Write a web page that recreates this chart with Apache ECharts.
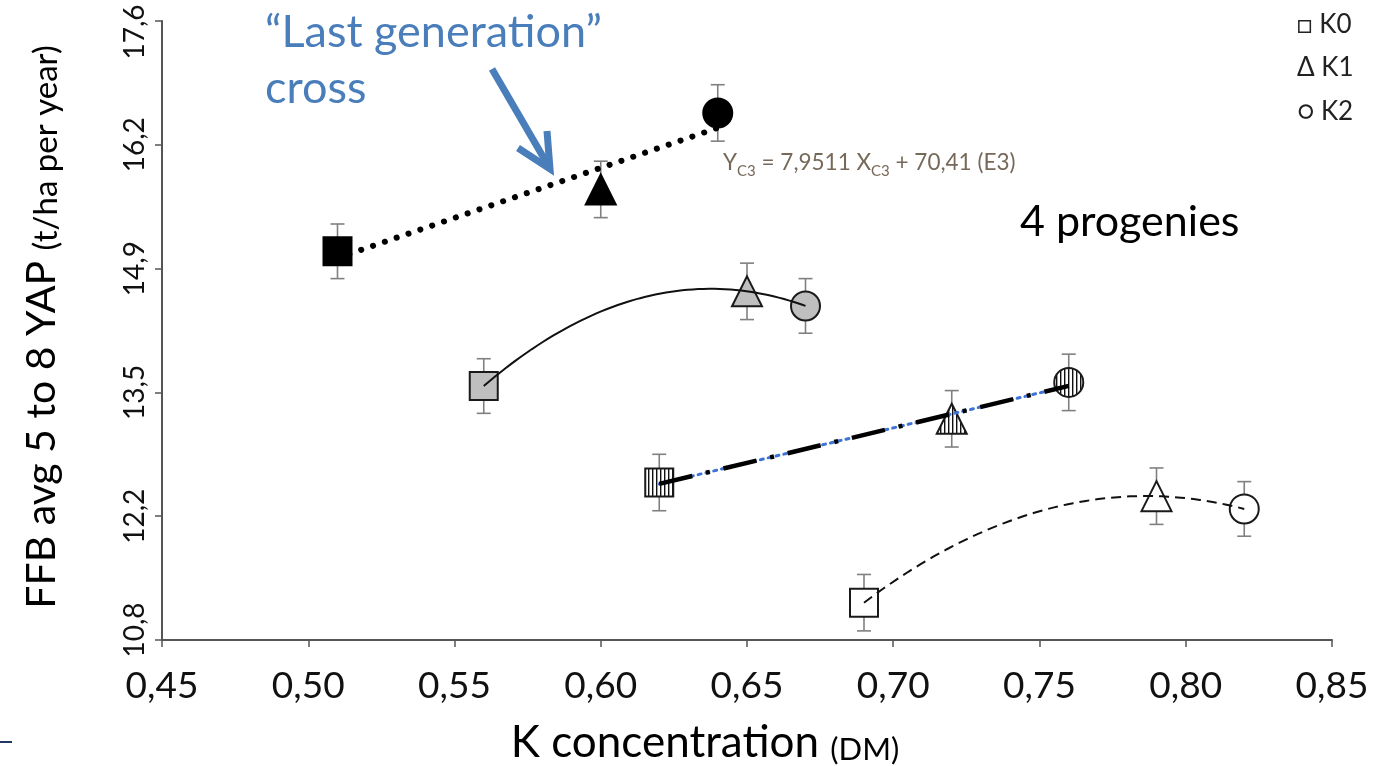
<!DOCTYPE html>
<html>
<head>
<meta charset="utf-8">
<title>FFB vs K concentration</title>
<script src="https://cdn.jsdelivr.net/npm/echarts@6/dist/echarts.min.js"></script>
<style>
  html, body { margin: 0; padding: 0; background: #fff; }
  #main { width: 1382px; height: 766px; }
</style>
</head>
<body>
<div id="main"></div>
<script>
// x = K concentration (DM), y = FFB avg 5 to 8 YAP (t/ha per year)
// every progeny has 3 points, in order K0 (square), K1 (triangle), K2 (circle)
var kNames = ['K0', 'K1', 'K2'];
var kShapes = ['rect', 'triangle', 'circle'];
var kSizes = [28, 30, 29];

var c3K = [0.51, 0.60, 0.64];
var c3Ffb = [15.07, 15.75, 16.59];
var c3Err = [0.30, 0.31, 0.31];

var greyK = [0.56, 0.65, 0.67];
var greyFfb = [13.59, 14.63, 14.47];
var greyErr = [0.30, 0.31, 0.30];

var stripeK = [0.62, 0.72, 0.76];
var stripeFfb = [12.53, 13.23, 13.63];
var stripeErr = [0.31, 0.31, 0.31];

var whiteK = [0.69, 0.79, 0.82];
var whiteFfb = [11.21, 12.38, 12.24];
var whiteErr = [0.31, 0.31, 0.30];

var xTickLabels = ['0,45', '0,50', '0,55', '0,60', '0,65', '0,70', '0,75', '0,80', '0,85'];
var yTickLabels = ['10,8', '12,2', '13,5', '14,9', '16,2', '17,6'];

var FONT = 'Lato, "Open Sans", sans-serif';
var BLUE = '#4a7ebb';

// excel-like trendlines
function linearTrend(xs, ys) {
    var n = xs.length, mx = 0, my = 0;
    for (var i = 0; i < n; i++) { mx += xs[i] / n; my += ys[i] / n; }
    var sxy = 0, sxx = 0;
    for (var i = 0; i < n; i++) {
        sxy += (xs[i] - mx) * (ys[i] - my);
        sxx += (xs[i] - mx) * (xs[i] - mx);
    }
    var b = sxy / sxx, a = my - b * mx;
    var x0 = Math.min.apply(null, xs), x1 = Math.max.apply(null, xs);
    return [[x0, a + b * x0], [x1, a + b * x1]];
}

// 2nd order polynomial through the 3 points
function polyTrend(xs, ys) {
    function f(x) {
        var s = 0;
        for (var i = 0; i < 3; i++) {
            var t = ys[i];
            for (var j = 0; j < 3; j++) {
                if (j !== i) t *= (x - xs[j]) / (xs[i] - xs[j]);
            }
            s += t;
        }
        return s;
    }
    var out = [], steps = 60;
    for (var k = 0; k <= steps; k++) {
        var x = xs[0] + (xs[2] - xs[0]) * k / steps;
        out.push([x, f(x)]);
    }
    return out;
}

// vertical stripes for the hatched progeny
var stripeCanvas = document.createElement('canvas');
stripeCanvas.width = 4;
stripeCanvas.height = 4;
var sctx = stripeCanvas.getContext('2d');
sctx.fillStyle = '#fff';
sctx.fillRect(0, 0, 4, 4);
sctx.fillStyle = '#111';
sctx.fillRect(0, 0, 1.4, 4);

function markers(name, xs, ys, fill, border) {
    return {
        type: 'scatter',
        name: name,
        z: 3,
        silent: true,
        data: xs.map(function (x, i) {
            return { name: kNames[i], value: [x, ys[i]], symbol: kShapes[i], symbolSize: kSizes[i] };
        }),
        itemStyle: { color: fill, borderColor: border, borderWidth: 2, opacity: 1 }
    };
}

// drawn in pixel space so the stripe pattern keeps its real size
function hatchedMarkers(name, xs, ys) {
    return {
        type: 'custom',
        name: name,
        z: 3,
        silent: true,
        data: xs.map(function (x, i) { return [x, ys[i]]; }),
        renderItem: function (params, api) {
            var p = api.coord([api.value(0), api.value(1)]);
            var i = params.dataIndex;
            var s = kSizes[i] / 2;
            var st = { fill: { image: stripeCanvas, repeat: 'repeat' }, stroke: '#1a1a1a', lineWidth: 2 };
            if (kShapes[i] === 'rect') {
                return { type: 'rect', shape: { x: p[0] - s, y: p[1] - s, width: 2 * s, height: 2 * s }, style: st };
            }
            if (kShapes[i] === 'triangle') {
                return { type: 'polygon', shape: { points: [[p[0], p[1] - s], [p[0] + s, p[1] + s], [p[0] - s, p[1] + s]] }, style: st };
            }
            return { type: 'circle', shape: { cx: p[0], cy: p[1], r: s }, style: st };
        }
    };
}

function errorBars(xs, ys, errs) {
    return {
        type: 'custom',
        z: 2,
        silent: true,
        data: xs.map(function (x, i) { return [x, ys[i], errs[i]]; }),
        renderItem: function (params, api) {
            var x = api.value(0), y = api.value(1), e = api.value(2);
            var top = api.coord([x, y + e]);
            var bot = api.coord([x, y - e]);
            var w = 7;
            var st = { stroke: '#808080', lineWidth: 1.6 };
            return {
                type: 'group',
                children: [
                    { type: 'line', shape: { x1: top[0], y1: top[1], x2: bot[0], y2: bot[1] }, style: st },
                    { type: 'line', shape: { x1: top[0] - w, y1: top[1], x2: top[0] + w, y2: top[1] }, style: st },
                    { type: 'line', shape: { x1: bot[0] - w, y1: bot[1], x2: bot[0] + w, y2: bot[1] }, style: st }
                ]
            };
        }
    };
}

function trend(data, lineStyle, z) {
    return {
        type: 'line',
        z: z || 4,
        silent: true,
        showSymbol: false,
        symbol: 'none',
        data: data,
        lineStyle: lineStyle
    };
}

var mychart = echarts.init(document.getElementById('main'));

var option = {
    backgroundColor: '#fff',
    animation: false,
    grid: { left: 162, right: 50, top: 21, bottom: 126, containLabel: false, outerBoundsMode: 'none' },
    xAxis: {
        type: 'value',
        min: 0.45,
        max: 0.85,
        interval: 0.05,
        splitLine: { show: false },
        axisLine: { show: true, lineStyle: { color: '#555', width: 2 } },
        axisTick: { show: true, inside: false, length: 7, lineStyle: { color: '#555', width: 1.5 } },
        axisLabel: {
            margin: 28,
            color: '#111',
            fontFamily: FONT,
            fontSize: 37,
            formatter: function (v) { return xTickLabels[Math.round((v - 0.45) / 0.05)]; }
        }
    },
    yAxis: {
        type: 'value',
        min: 10.8,
        max: 17.6,
        interval: 1.36,
        splitLine: { show: false },
        axisLine: { show: true, lineStyle: { color: '#555', width: 2 } },
        axisTick: { show: true, inside: false, length: 7, lineStyle: { color: '#555', width: 1.5 } },
        axisLabel: {
            rotate: 90,
            margin: 13,
            color: '#111',
            fontFamily: FONT,
            fontSize: 28,
            formatter: function (v) {
                var idx = Math.round((v - 10.8) / 1.36);
                if (idx === yTickLabels.length - 1) return '{top|' + yTickLabels[idx] + '}';
                if (idx === 0) return '{bot|' + yTickLabels[idx] + '}';
                return yTickLabels[idx];
            },
            rich: {
                top: { fontFamily: FONT, fontSize: 28, color: '#111', padding: [0, 22, 0, 0] },
                bot: { fontFamily: FONT, fontSize: 28, color: '#111', padding: [0, 0, 0, 20] }
            }
        }
    },
    series: [
        errorBars(c3K, c3Ffb, c3Err),
        errorBars(greyK, greyFfb, greyErr),
        errorBars(stripeK, stripeFfb, stripeErr),
        errorBars(whiteK, whiteFfb, whiteErr),

        markers('C3', c3K, c3Ffb, '#000', '#000'),
        markers('Progeny 2', greyK, greyFfb, '#bfbfbf', '#1a1a1a'),
        hatchedMarkers('Progeny 3', stripeK, stripeFfb),
        markers('Progeny 4', whiteK, whiteFfb, '#fff', '#1a1a1a'),

        trend(linearTrend(c3K, c3Ffb), { color: '#000', width: 6, type: [0.1, 12.4], cap: 'round' }),
        trend(polyTrend(greyK, greyFfb), { color: '#111', width: 2, type: 'solid' }),
        trend(linearTrend(stripeK, stripeFfb), { color: '#3f73d6', width: 3, type: [3, 5], cap: 'round' }, 4),
        trend(linearTrend(stripeK, stripeFfb), { color: '#000', width: 4.5, type: [34, 14, 4, 14] }, 5),
        trend(polyTrend(whiteK, whiteFfb), { color: '#111', width: 2, type: [10, 6] })
    ],
    graphic: [
        {
            type: 'text', x: 42, y: 327, rotation: Math.PI / 2,
            style: {
                text: '{a|FFB avg 5 to 8 YAP }{b|(t/ha per year)}',
                align: 'center', verticalAlign: 'middle', fill: '#000',
                rich: {
                    a: { fontFamily: FONT, fontSize: 41, lineHeight: 41, verticalAlign: 'bottom', fill: '#000' },
                    b: { fontFamily: FONT, fontSize: 33, lineHeight: 35, verticalAlign: 'bottom', fill: '#000' }
                }
            }
        },
        {
            type: 'text', x: 705, y: 743,
            style: {
                text: '{a|K concentration }{b|(DM)}',
                align: 'center', verticalAlign: 'middle', fill: '#000',
                rich: {
                    a: { fontFamily: FONT, fontSize: 44, lineHeight: 44, verticalAlign: 'bottom', fill: '#000' },
                    b: { fontFamily: FONT, fontSize: 31, lineHeight: 33, verticalAlign: 'bottom', fill: '#000' }
                }
            }
        },
        {
            type: 'text', x: 265, y: 4,
            style: {
                text: '\u201cLast generation\u201d\ncross',
                fontFamily: FONT, fontSize: 45, lineHeight: 56,
                align: 'left', verticalAlign: 'top', fill: BLUE
            }
        },
        {
            type: 'line',
            shape: { x1: 492, y1: 69, x2: 549, y2: 167 },
            style: { stroke: BLUE, lineWidth: 7 }
        },
        {
            type: 'polyline',
            shape: { points: [[518, 148], [550, 169], [547, 131]] },
            style: { stroke: BLUE, lineWidth: 7, fill: null, lineJoin: 'miter' }
        },
        {
            type: 'text', x: 723, y: 163,
            style: {
                text: 'Y{s|C3} = 7,9511 X{s|C3} + 70,41 (E3)',
                fontFamily: FONT, fontSize: 22.5, lineHeight: 26,
                align: 'left', verticalAlign: 'middle', fill: '#77695a',
                rich: {
                    s: { fontFamily: FONT, fontSize: 15, lineHeight: 32, verticalAlign: 'bottom', fill: '#77695a' }
                }
            }
        },
        {
            type: 'text', x: 1020, y: 222,
            style: { text: '4 progenies', fontFamily: FONT, fontSize: 43, align: 'left', verticalAlign: 'middle', fill: '#000' }
        },
        {
            type: 'text', x: 1297, y: 25,
            style: { text: '\u25a1 K0', fontFamily: FONT, fontSize: 26, align: 'left', verticalAlign: 'middle', fill: '#222' }
        },
        {
            type: 'text', x: 1297, y: 68,
            style: { text: '\u0394 K1', fontFamily: FONT, fontSize: 26, align: 'left', verticalAlign: 'middle', fill: '#222' }
        },
        {
            type: 'text', x: 1297, y: 112,
            style: { text: '\u25cb K2', fontFamily: FONT, fontSize: 26, align: 'left', verticalAlign: 'middle', fill: '#222' }
        },
        {
            type: 'line',
            shape: { x1: 0, y1: 742, x2: 12, y2: 742 },
            style: { stroke: '#1f3864', lineWidth: 2 }
        }
    ]
};

mychart.setOption(option);
</script>
</body>
</html>
